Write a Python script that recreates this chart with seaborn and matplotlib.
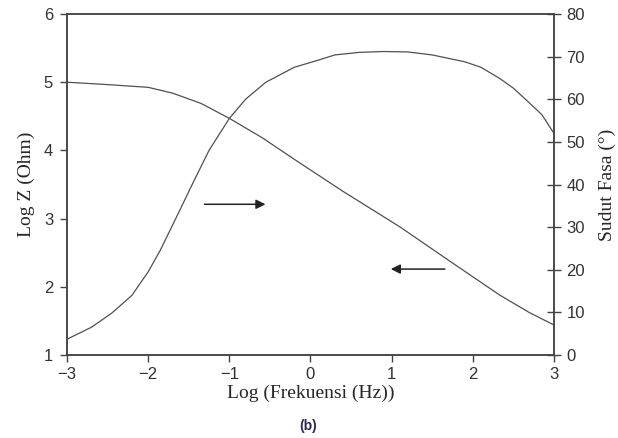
import pandas as pd
import matplotlib.pyplot as plt
import seaborn as sns

sns.set_style("ticks")

# data
log_freq_z = [-3, -2.5, -2, -1.7, -1.35, -1, -0.6, -0.2, 0.4, 1.1, 1.7, 2.33, 2.7, 3]
log_z = [5.0, 4.965, 4.925, 4.84, 4.69, 4.47, 4.19, 3.87, 3.40, 2.88, 2.39, 1.88, 1.62, 1.44]

log_freq_ph = [-3, -2.7, -2.45, -2.2, -2, -1.85, -1.65, -1.45, -1.25, -1, -0.8, -0.55,
               -0.2, 0.1, 0.3, 0.6, 0.9, 1.2, 1.5, 1.9, 2.1, 2.33, 2.5, 2.66, 2.85, 3]
phase = [3.7, 6.5, 9.8, 14, 19.5, 24.6, 32.4, 40.3, 48, 55.5, 60, 64,
         67.5, 69.2, 70.4, 71, 71.2, 71.1, 70.4, 68.8, 67.5, 64.9, 62.6, 59.8, 56.4, 52]

x_ticks = [-3, -2, -1, 0, 1, 2, 3]
x_tick_labels = ["\u22123", "\u22122", "\u22121", "0", "1", "2", "3"]
left_ticks = [1, 2, 3, 4, 5, 6]
right_ticks = [0, 10, 20, 30, 40, 50, 60, 70, 80]

df_z = pd.DataFrame({"f": log_freq_z, "z": log_z})
df_ph = pd.DataFrame({"f": log_freq_ph, "ph": phase})

fig = plt.figure(figsize=(6.18, 4.38), dpi=100)
ax = fig.add_axes([0.1084, 0.1895, 0.7880, 0.7785])
ax2 = ax.twinx()

line_col = "#505050"
sns.lineplot(data=df_z, x="f", y="z", ax=ax, color=line_col, linewidth=0.9)
sns.lineplot(data=df_ph, x="f", y="ph", ax=ax2, color=line_col, linewidth=0.9)

ax.set_xlim(-3, 3)
ax.set_ylim(1, 6)
ax2.set_ylim(0, 80)
ax.set_xticks(x_ticks)
ax.set_xticklabels(x_tick_labels)
ax.set_yticks(left_ticks)
ax2.set_yticks(right_ticks)

for lab in ax.get_xticklabels() + ax.get_yticklabels() + ax2.get_yticklabels():
    lab.set_fontfamily("Liberation Sans")
    lab.set_fontsize(12)
    lab.set_color("#333333")

ax.tick_params(axis="x", direction="out", length=5, width=1, color="#444444", pad=4)
ax.tick_params(axis="y", direction="out", length=5, width=1, color="#444444", pad=5)
ax2.tick_params(axis="y", direction="inout", length=10, width=1, color="#444444", pad=4)

for a in (ax, ax2):
    for s in a.spines.values():
        s.set_color("#444444")
        s.set_linewidth(1.1)

serif = {"family": "Liberation Serif", "size": 14}
ax.set_xlabel("Log (Frekuensi (Hz))", fontdict=serif, labelpad=1.5)
ax.set_ylabel("Log Z (Ohm)", fontdict=serif, labelpad=6)
ax2.set_ylabel("Sudut Fasa (\u00b0)", fontdict=serif, labelpad=9.5)

# direction arrows
arrow = dict(arrowstyle="-|>", color="#222222", lw=1.1, mutation_scale=14)
ax.annotate("", xy=(-0.52, 3.21), xytext=(-1.34, 3.21), arrowprops=arrow)
ax.annotate("", xy=(0.955, 2.26), xytext=(1.69, 2.26), arrowprops=arrow)

fig.text(0.498, 0.027, "(b)", ha="center", va="center", fontsize=10,
         fontweight="bold", family="Liberation Sans", color="#302850")

plt.savefig("out.png", dpi=100)
